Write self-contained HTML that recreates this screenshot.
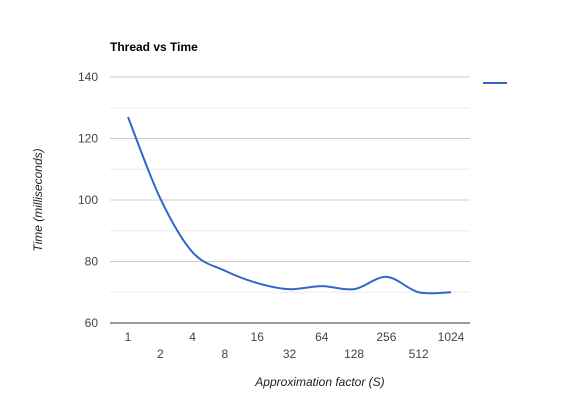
<!DOCTYPE html>
<html><head><meta charset="utf-8"><style>
body{margin:0;background:#fff;}
svg{font-family:"Liberation Sans",Arial,sans-serif;}
</style></head><body>
<svg id="chart" width="580" height="400" viewBox="0 0 580 400">
<rect width="580" height="400" fill="#fff"/>
<text x="110" y="51" font-size="12" font-weight="bold" fill="#000">Thread vs Time</text>
<g id="grid"></g>
<g id="yticks"></g>
<g id="xticks"></g>
<text transform="translate(42,200) rotate(-90)" text-anchor="middle" font-size="12" font-style="italic" fill="#222">Time (milliseconds)</text>
<text x="320" y="386" text-anchor="middle" font-size="12" font-style="italic" fill="#222">Approximation factor (S)</text>
<line x1="483" y1="83" x2="507" y2="83" stroke="#3366cc" stroke-width="2"/>
<path id="series" fill="none" stroke="#3366cc" stroke-width="2"/>
</svg>
<script>
const categories=["1","2","4","8","16","32","64","128","256","512","1024"];
const values=[127,100.5,83,77,73,71,72,71,75,70,70];
const yTicks=[60,80,100,120,140];
const yMinor=[70,90,110,130];
const ns="http://www.w3.org/2000/svg";
const x0=128,dx=32.3,yBase=323,yScale=3.075,plotL=110,plotR=470;
function X(i){return x0+i*dx;}
function Y(v){return yBase-(v-60)*yScale;}
function mk(tag,attrs,parent){const e=document.createElementNS(ns,tag);for(const k in attrs)e.setAttribute(k,attrs[k]);parent.appendChild(e);return e;}
const grid=document.getElementById('grid'),yt=document.getElementById('yticks'),xt=document.getElementById('xticks');
yMinor.forEach(v=>{const l=mk('line',{x1:plotL,x2:plotR,y1:Y(v),y2:Y(v),stroke:'#ebebeb','stroke-width':1},grid);

});
yTicks.forEach(v=>{const l=mk('line',{x1:plotL,x2:plotR,y1:Y(v),y2:Y(v),stroke:v===60?'#333':'#ccc','stroke-width':1},grid);


const t=mk('text',{x:98,y:Y(v)+4,'text-anchor':'end','font-size':12,fill:'#444'},yt);t.textContent=v;

});
categories.forEach((c,i)=>{const t=mk('text',{x:X(i),y:i%2===0?341:358,'text-anchor':'middle','font-size':12,fill:'#444'},xt);t.textContent=c;

});
const pts=values.map((v,i)=>[X(i),Y(v)]);
let d='M'+pts[0][0]+','+pts[0][1];
for(let i=0;i<pts.length-1;i++){const p0=pts[Math.max(0,i-1)],p1=pts[i],p2=pts[i+1],p3=pts[Math.min(pts.length-1,i+2)];
const c1=[p1[0]+(p2[0]-p0[0])/6,p1[1]+(p2[1]-p0[1])/6],c2=[p2[0]-(p3[0]-p1[0])/6,p2[1]-(p3[1]-p1[1])/6];
d+=` C${c1[0]},${c1[1]} ${c2[0]},${c2[1]} ${p2[0]},${p2[1]}`;}
document.getElementById('series').setAttribute('d',d);
</script>
</body></html>
